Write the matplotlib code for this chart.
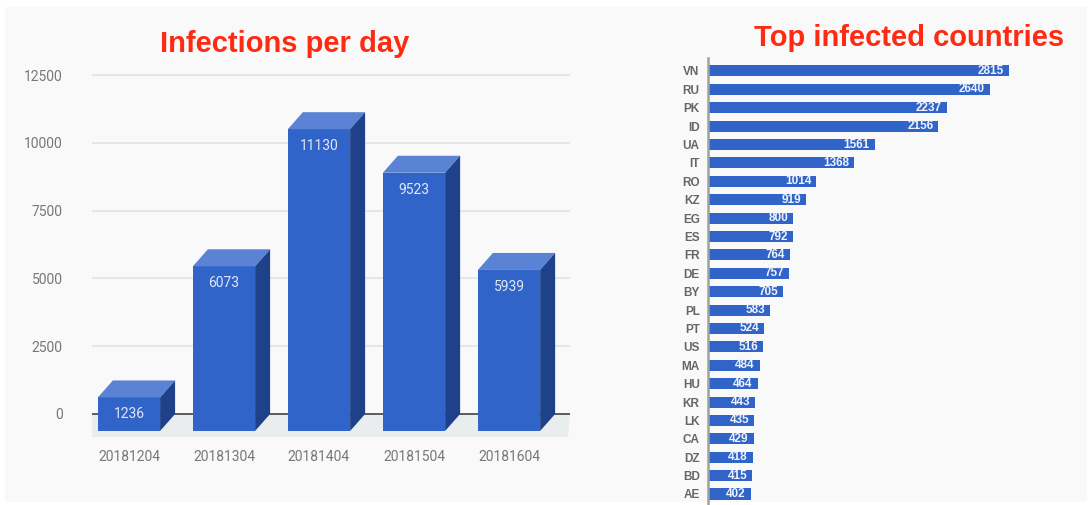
import matplotlib
matplotlib.use("Agg")
import matplotlib.pyplot as plt
from matplotlib.patches import Polygon, Rectangle
from matplotlib.transforms import offset_copy

# data
days = ["20181204", "20181304", "20181404", "20181504", "20181604"]
infections = [1236, 6073, 11130, 9523, 5939]

countries = ["VN", "RU", "PK", "ID", "UA", "IT", "RO", "KZ", "EG", "ES", "FR", "DE",
             "BY", "PL", "PT", "US", "MA", "HU", "KR", "LK", "CA", "DZ", "BD", "AE"]
country_counts = [2815, 2640, 2237, 2156, 1561, 1368, 1014, 919, 800, 792, 764, 757,
                  705, 583, 524, 516, 484, 464, 443, 435, 429, 418, 415, 402]

yticks = [0, 2500, 5000, 7500, 10000, 12500]

W, H = 1092, 505
DPI = 100
fig = plt.figure(figsize=(W / DPI, H / DPI), dpi=DPI)
fig.patch.set_facecolor("white")

# light grey panel behind both charts
fig.add_artist(Rectangle((5 / W, 1 - 502 / H), 1082 / W, 495 / H,
                         transform=fig.transFigure, facecolor="#f9f9f9",
                         edgecolor="none", zorder=0))

FRONT = "#3164c8"
TOP = "#5a83d5"
SIDE = "#1f4189"
GREY = "#777777"


def px_box(left, top, right, bottom):
    return [left / W, 1 - bottom / H, (right - left) / W, (bottom - top) / H]


# ---------------- left: infections per day (fake 3d bars) ----------------
ax = fig.add_axes(px_box(92, 69.6, 570, 443.8))
ax.patch.set_alpha(0)
ax.set_xlim(-0.547, 4.484)
ax.set_ylim(-1100, 12700)
for s in ax.spines.values():
    s.set_visible(False)
ax.set_xticks([])
ax.set_yticks(yticks)
ax.set_yticklabels([str(t) for t in yticks], fontsize=10, color=GREY,
                   fontfamily="Roboto")
ax.tick_params(axis="y", length=0, pad=21)
for t in yticks[1:]:
    ax.axhline(t, color="#e3e7e7", lw=1.4, zorder=1)

# depth of the bars in pixels, converted to data units with the axes scales
dx_px, dy_px = 15, 17
x0, y0 = ax.transData.transform((0, 0))
x1, y1 = ax.transData.transform((1, 1))
ddx = dx_px / (x1 - x0)
ddy = dy_px / (y1 - y0)

# floor
xl, xr = ax.get_xlim()
fl_dy = 23 / (y1 - y0)
floor = Polygon([(xl, 0), (xr, 0), (xr - 2 / (x1 - x0), -fl_dy),
                 (xl - 19 / (x1 - x0), -fl_dy)],
                closed=True, facecolor="#e9edee", edgecolor="none", zorder=1)
ax.add_patch(floor)
ax.axhline(0, color="#333333", lw=1.1, zorder=2)

bw = 0.655
for i, v in enumerate(infections):
    fx = i - ddx
    # front face
    ax.add_patch(Rectangle((fx - bw / 2, -ddy), bw, v, facecolor=FRONT,
                           edgecolor="none", zorder=3))
    # top face
    ax.add_patch(Polygon([(fx - bw / 2, v - ddy), (fx + bw / 2, v - ddy),
                          (i + bw / 2, v), (i - bw / 2, v)],
                         closed=True, facecolor=TOP, edgecolor="none", zorder=3))
    # side face
    ax.add_patch(Polygon([(fx + bw / 2, -ddy), (i + bw / 2, 0),
                          (i + bw / 2, v), (fx + bw / 2, v - ddy)],
                         closed=True, facecolor=SIDE, edgecolor="none", zorder=3))

val_tr = offset_copy(ax.transData, fig=fig, x=-dx_px, y=-(dy_px + 17), units="dots")
lab_tr = offset_copy(ax.transData, fig=fig, x=-dx_px, y=-43, units="dots")
for i, v in enumerate(infections):
    ax.text(i, v, str(v), transform=val_tr, ha="center", va="center",
            fontsize=10, color="#dfe7f7", fontfamily="Roboto", zorder=4)
    ax.text(i, 0, days[i], transform=lab_tr, ha="center", va="center",
            fontsize=10, color=GREY, fontfamily="Roboto", clip_on=False)

fig.text(285 / W, 1 - 44 / H, "Infections per day", ha="center", va="center",
         fontsize=21, fontweight="bold", color="#ff2a12",
         fontfamily="Liberation Sans")

# ---------------- right: top infected countries ----------------
ax2 = fig.add_axes(px_box(708, 58.1, 1082, 504.1))
ax2.patch.set_alpha(0)
pos = list(range(len(countries)))
ax2.barh(pos, country_counts, height=0.6, color=FRONT, zorder=2)
ax2.set_xlim(0, 3500)
ax2.set_ylim(23.55, -0.7)
for name, s in ax2.spines.items():
    s.set_visible(name == "left")
ax2.spines["left"].set_color("#a0a0a0")
ax2.spines["left"].set_linewidth(1.8)
ax2.set_xticks([])
ax2.set_yticks(pos)
ax2.set_yticklabels(countries, fontsize=8.5, fontweight="bold", color="#666666",
                    fontfamily="Liberation Sans")
ax2.tick_params(axis="y", length=0, pad=6)

end_tr = offset_copy(ax2.transData, fig=fig, x=-5, y=0, units="dots")
for p, v in zip(pos, country_counts):
    ax2.text(v, p, str(v), transform=end_tr, ha="right", va="center",
             fontsize=8.5, fontweight="bold", color="#eef2fb",
             fontfamily="Liberation Sans", zorder=3)

fig.text(909 / W, 1 - 38 / H, "Top infected countries", ha="center", va="center",
         fontsize=21, fontweight="bold", color="#ff2a12",
         fontfamily="Liberation Sans")

fig.savefig("out.png", dpi=DPI)
